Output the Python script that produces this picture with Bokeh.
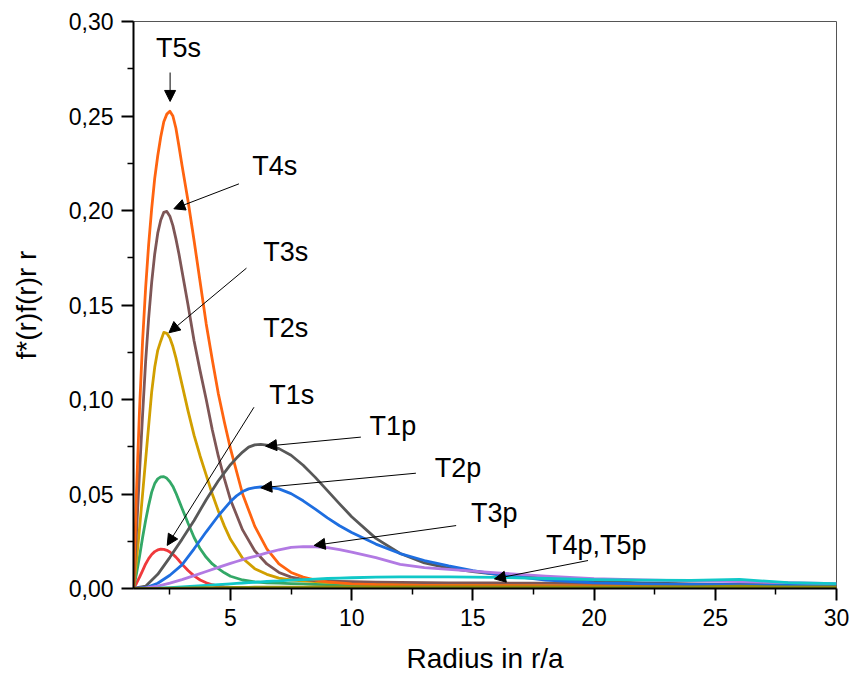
from bokeh.plotting import figure
from bokeh.models import (Range1d, FixedTicker, CustomJSTickFormatter, Arrow,
                          NormalHead, ColumnDataSource)
from bokeh.core.properties import value
from bokeh.embed import file_html
from bokeh.resources import INLINE

# Radius grids (r/a): finer near the sharp s-state peaks
radius_s = [1, 1.125, 1.25, 1.375, 1.5, 1.625, 1.75, 1.875, 2, 2.125, 2.25, 2.375,
            2.5, 2.625, 2.75, 2.875, 3, 3.25, 3.5, 3.75, 4, 4.25, 4.5, 4.75, 5,
            5.5, 6, 6.5, 7, 7.5, 8, 8.5, 9, 9.5, 10, 11, 12, 13, 14, 15, 16, 18,
            20, 22, 24, 26, 28, 30]
radius_p = [1, 1.5, 2, 2.5, 3, 3.5, 4, 4.5, 5, 5.25, 5.5, 5.75, 6, 6.25, 6.5, 6.75,
            7, 7.5, 8, 8.5, 9, 9.5, 10, 11, 12, 13, 14, 15, 16, 18, 20, 22, 24, 26,
            28, 30]

# Radial densities f*(r) f(r) r r, s states
t1s = [0, 0.0028, 0.006, 0.0095, 0.013, 0.0158, 0.018, 0.0195, 0.0204, 0.0208,
       0.0207, 0.0202, 0.0193, 0.0181, 0.0166, 0.0148, 0.0129, 0.0095, 0.0067,
       0.0045, 0.003, 0.002, 0.0013, 0.0009, 0.0006,
       0.0003, 0.0002, 0.00015, 0.0001, 0.0001, 0.0001, 0.0001, 0.0001, 0.0001,
       0.0001, 0.0001, 0.0001, 0.0001, 0.0001, 0.0001, 0.0001, 0.0001, 0.0001,
       0.0001, 0.0001, 0.0001, 0.0001, 0.0001]
t2s = [0, 0.008, 0.017, 0.027, 0.036, 0.044, 0.051, 0.0555, 0.058, 0.0591, 0.0592,
       0.0583, 0.0565, 0.054, 0.0505, 0.0465, 0.0425, 0.0345, 0.027, 0.021, 0.0165,
       0.013, 0.0105, 0.0083, 0.0065,
       0.0045, 0.0035, 0.003, 0.0028, 0.0026, 0.0024, 0.0022, 0.002, 0.0019, 0.0018,
       0.0016, 0.0015, 0.0014, 0.0013, 0.0012, 0.0012, 0.001, 0.001, 0.0009, 0.0009,
       0.0009, 0.0008, 0.0008]
t3s = [0, 0.015, 0.032, 0.050, 0.068, 0.086, 0.104, 0.117, 0.126, 0.131, 0.1355,
       0.135, 0.1325, 0.128, 0.122, 0.115, 0.108, 0.094, 0.081, 0.070, 0.060, 0.050,
       0.041, 0.033, 0.026,
       0.016, 0.0105, 0.0075, 0.0055, 0.0045, 0.004, 0.0036, 0.0033, 0.003, 0.0028,
       0.0025, 0.0022, 0.002, 0.0019, 0.0018, 0.0017, 0.0015, 0.0014, 0.0013, 0.0012,
       0.0012, 0.0011, 0.001]
t4s = [0, 0.030, 0.062, 0.092, 0.120, 0.143, 0.162, 0.177, 0.188, 0.195, 0.199,
       0.1995, 0.197, 0.192, 0.185, 0.177, 0.168, 0.150, 0.131, 0.115, 0.100, 0.084,
       0.070, 0.058, 0.047,
       0.031, 0.020, 0.013, 0.0085, 0.006, 0.0048, 0.0042, 0.004, 0.0038, 0.0036,
       0.0034, 0.0032, 0.0031, 0.003, 0.003, 0.0029, 0.0028, 0.0026, 0.0022, 0.002,
       0.002, 0.0018, 0.0016]
t5s = [0, 0.052, 0.095, 0.131, 0.159, 0.182, 0.201, 0.217, 0.229, 0.239, 0.247,
       0.251, 0.2525, 0.250, 0.2435, 0.234, 0.224, 0.205, 0.184, 0.162, 0.140, 0.121,
       0.103, 0.088, 0.074,
       0.050, 0.033, 0.021, 0.013, 0.0085, 0.006, 0.0045, 0.0035, 0.003, 0.0025,
       0.002, 0.0018, 0.0016, 0.0015, 0.0015, 0.0015, 0.0014, 0.0014, 0.0014, 0.0014,
       0.0022, 0.0015, 0.0015]

# Radial densities, p states
t1p = [0, 0.0012, 0.0075, 0.0165, 0.026, 0.036, 0.047, 0.057, 0.0655, 0.069,
       0.0722, 0.0748, 0.0760, 0.0763, 0.0759, 0.0751, 0.0740, 0.0705, 0.0652,
       0.0588, 0.0518, 0.0448, 0.038, 0.0265, 0.0185, 0.0135, 0.0108, 0.009, 0.0075,
       0.0055, 0.004, 0.003, 0.0025, 0.002, 0.0018, 0.0015]
t2p = [0, 0.0004, 0.0028, 0.007, 0.0125, 0.021, 0.030, 0.0385, 0.046, 0.049,
       0.0513, 0.0527, 0.0534, 0.0537, 0.0536, 0.0533, 0.0527, 0.0502, 0.0464,
       0.0420, 0.0374, 0.0332, 0.0296, 0.0235, 0.0185, 0.0148, 0.012, 0.0095, 0.0075,
       0.0045, 0.003, 0.0025, 0.0022, 0.002, 0.0018, 0.0016]
t3p = [0, 0.0003, 0.0013, 0.0028, 0.0047, 0.0068, 0.009, 0.0112, 0.0133, 0.0143,
       0.0153, 0.0162, 0.017, 0.0179, 0.0188, 0.0197, 0.0205, 0.0218, 0.0222, 0.0221,
       0.0216, 0.0206, 0.0193, 0.0163, 0.0128, 0.0111, 0.0101, 0.0092, 0.0083,
       0.0065, 0.0052, 0.0045, 0.004, 0.0036, 0.0031, 0.0026]
t4p = [0, 0.00005, 0.0002, 0.0005, 0.0009, 0.0013, 0.0017, 0.0021, 0.0025, 0.0027,
       0.0029, 0.0031, 0.0033, 0.0035, 0.0037, 0.0039, 0.004, 0.0044, 0.0047, 0.005,
       0.0053, 0.0055, 0.0057, 0.006, 0.0061, 0.0061, 0.0061, 0.006, 0.0059, 0.0053,
       0.0047, 0.0044, 0.0043, 0.0048, 0.0031, 0.0026]
t5p = [0, 0, 0.00005, 0.00015, 0.00025, 0.00035, 0.00045, 0.0005, 0.00055, 0.00058,
       0.0006, 0.00062, 0.00065, 0.00067, 0.0007, 0.00071, 0.00072, 0.00075, 0.00078,
       0.0008, 0.00082, 0.00085, 0.00088, 0.0009, 0.0009, 0.0009, 0.0009, 0.0009,
       0.0009, 0.0009, 0.0009, 0.0009, 0.0009, 0.0012, 0.0008, 0.0008]

series = [
    (radius_s, t1s, "#F0393C"), (radius_s, t2s, "#33A867"),
    (radius_s, t3s, "#D19F00"), (radius_s, t4s, "#7E5656"),
    (radius_s, t5s, "#FF6410"), (radius_p, t1p, "#585858"),
    (radius_p, t2p, "#1E6EE0"), (radius_p, t3p, "#B27AE3"),
    (radius_p, t4p, "#10C8C8"), (radius_p, t5p, "#8E8E10"),
]

# Callout texts and their arrows (data coordinates)
label_text = ["T5s", "T4s", "T3s", "T2s", "T1s", "T1p", "T2p", "T3p", "T4p,T5p"]
label_x = [2.86, 6.83, 7.28, 7.28, 7.53, 11.70, 14.39, 15.88, 20.09]
label_y = [0.2862, 0.2238, 0.1783, 0.1376, 0.1026, 0.0862, 0.0635, 0.0397, 0.0228]

arrow_x0 = [2.51, 5.35, 5.66, 5.97, 10.38, 12.65, 14.31, 19.75]
arrow_y0 = [0.273, 0.2141, 0.1695, 0.0959, 0.0801, 0.0610, 0.0333, 0.0148]
arrow_x1 = [2.51, 2.665, 2.46, 2.39, 6.45, 6.25, 8.45, 15.89]
arrow_y1 = [0.2577, 0.2009, 0.1353, 0.0228, 0.0753, 0.0533, 0.0228, 0.0051]

x_ticks = [5, 10, 15, 20, 25, 30]
x_minor = [2.5, 7.5, 12.5, 17.5, 22.5, 27.5]
y_ticks = [0, 0.05, 0.10, 0.15, 0.20, 0.25, 0.30]
y_minor = [0.025, 0.075, 0.125, 0.175, 0.225, 0.275]

FONT = "Liberation Sans"

p = figure(width=852, height=677, output_backend="svg", toolbar_location=None,
           x_range=Range1d(1, 30), y_range=Range1d(0, 0.30),
           min_border_left=133, min_border_right=16, min_border_top=21,
           min_border_bottom=89)
p.grid.visible = False
p.outline_line_color = "#555555"
p.outline_line_width = 1
p.background_fill_color = "white"
p.border_fill_color = "white"

for xs, ys, col in series:
    p.line(xs, ys, line_color=col, line_width=2.8, line_join="round")

p.xaxis.ticker = FixedTicker(ticks=x_ticks, minor_ticks=x_minor)
p.yaxis.ticker = FixedTicker(ticks=y_ticks, minor_ticks=y_minor)
p.yaxis.formatter = CustomJSTickFormatter(
    code="return tick.toFixed(2).replace('.', ',');")

for ax in (p.xaxis[0], p.yaxis[0]):
    ax.axis_line_color = "black"
    ax.axis_line_width = 2
    ax.major_tick_line_color = "black"
    ax.major_tick_line_width = 2
    ax.minor_tick_line_color = "black"
    ax.minor_tick_line_width = 1.5
    ax.major_tick_in = 0
    ax.major_tick_out = 12
    ax.minor_tick_in = 0
    ax.minor_tick_out = 6
    ax.major_label_text_font = FONT
    ax.major_label_text_font_size = "23px"
    ax.major_label_text_color = "black"
    ax.axis_label_text_font = FONT
    ax.axis_label_text_font_size = "28px"
    ax.axis_label_text_font_style = "normal"
    ax.axis_label_text_color = "black"

p.xaxis.axis_label = "Radius in r/a"
p.xaxis.major_label_standoff = 8
p.xaxis.axis_label_standoff = 14
p.yaxis.axis_label = "f*(r)f(r)r r"
p.yaxis.major_label_standoff = 8
p.yaxis.axis_label_standoff = 24

src = ColumnDataSource(dict(x=label_x, y=label_y, text=label_text))
p.text(x="x", y="y", text="text", source=src, text_font=value(FONT),
       text_font_size="27px", text_align="center", text_baseline="middle",
       text_color="black")

for xs, ys, xe, ye in zip(arrow_x0, arrow_y0, arrow_x1, arrow_y1):
    p.add_layout(Arrow(end=NormalHead(size=11, fill_color="black",
                                      line_color="black", line_width=1),
                       x_start=xs, y_start=ys, x_end=xe, y_end=ye,
                       line_color="black", line_width=1))

open("out.html", "w").write(file_html(p, INLINE))
